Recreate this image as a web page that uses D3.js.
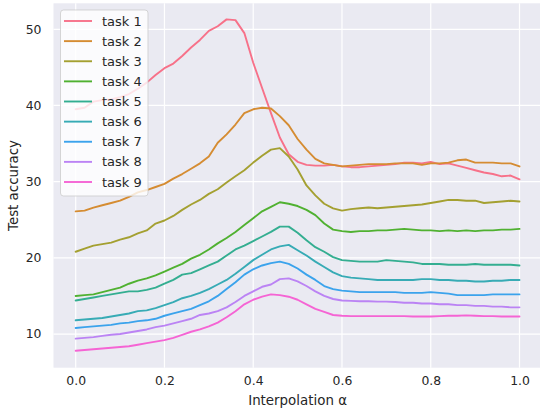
<!DOCTYPE html>
<html>
<head>
<meta charset="utf-8">
<script src="https://cdn.jsdelivr.net/npm/d3@7"></script>
<style>
html, body { margin: 0; padding: 0; background: #ffffff; }
svg { display: block; }
text { font-family: "DejaVu Sans", sans-serif; fill: #262626; }
</style>
</head>
<body>
<svg id="chart" width="540" height="410"></svg>
<script>
// ---------- data ----------
const alphas = d3.range(0, 51).map(i => +(i * 0.02).toFixed(2));
const taskNames = ["task 1","task 2","task 3","task 4","task 5","task 6","task 7","task 8","task 9"];
const taskColors = ["#f77189","#d58c32","#a4a031","#50b131","#34ae91","#37abb5","#3ba3ec","#bb83f4","#f564d4"];
const xTicks = [0.0, 0.2, 0.4, 0.6, 0.8, 1.0];
const yTicks = [10, 20, 30, 40, 50];

const task1 = [39.5,39.7,40.5,40.7,40.8,41.1,41.5,42.2,43.0,44.0,44.9,45.5,46.5,47.6,48.6,49.8,50.4,51.3,51.2,49.5,45.6,42.3,39.0,35.8,33.6,32.6,32.2,32.1,32.1,32.2,32.0,31.9,31.9,32.0,32.1,32.2,32.3,32.5,32.5,32.4,32.6,32.3,32.4,32.1,31.8,31.5,31.2,31.0,30.7,30.8,30.3];
const task2 = [26.1,26.2,26.6,26.9,27.2,27.5,28.0,28.6,28.9,29.3,29.7,30.4,31.0,31.7,32.4,33.3,35.1,36.2,37.5,39.0,39.5,39.7,39.6,38.6,37.4,35.6,34.2,33.0,32.4,32.2,32.0,32.1,32.2,32.3,32.3,32.3,32.4,32.4,32.4,32.2,32.4,32.4,32.5,32.8,32.9,32.5,32.5,32.5,32.4,32.4,32.0];
const task3 = [20.8,21.2,21.6,21.8,22.0,22.4,22.7,23.2,23.6,24.5,24.9,25.5,26.3,27.0,27.6,28.4,29.0,29.9,30.7,31.5,32.5,33.4,34.2,34.4,33.3,31.6,29.5,28.2,27.1,26.5,26.2,26.4,26.5,26.6,26.5,26.6,26.7,26.8,26.9,27.0,27.2,27.4,27.6,27.6,27.5,27.5,27.2,27.3,27.4,27.5,27.4];
const task4 = [15.0,15.1,15.2,15.5,15.8,16.1,16.6,17.0,17.3,17.7,18.2,18.7,19.2,19.9,20.4,21.1,21.9,22.6,23.4,24.3,25.2,26.1,26.7,27.3,27.1,26.8,26.3,25.6,24.5,23.7,23.5,23.4,23.5,23.5,23.6,23.6,23.7,23.8,23.7,23.6,23.6,23.5,23.6,23.5,23.6,23.5,23.6,23.6,23.7,23.7,23.8];
const task5 = [14.4,14.6,14.8,15.0,15.2,15.4,15.6,15.6,15.8,16.1,16.6,17.1,17.8,18.0,18.5,19.0,19.5,20.3,21.1,21.6,22.2,22.8,23.4,24.1,24.1,23.3,22.3,21.4,20.8,20.1,19.7,19.6,19.5,19.5,19.5,19.7,19.6,19.5,19.4,19.2,19.2,19.2,19.1,19.1,19.1,19.2,19.1,19.1,19.1,19.1,19.0];
const task6 = [11.8,11.9,12.0,12.1,12.3,12.5,12.7,13.0,13.1,13.4,13.8,14.2,14.7,15.0,15.4,15.9,16.5,17.1,17.9,18.8,19.7,20.4,21.1,21.5,21.7,21.0,20.3,19.5,18.8,18.1,17.6,17.4,17.3,17.2,17.1,17.1,17.1,17.1,17.1,17.2,17.2,17.1,17.1,17.0,17.0,16.9,16.9,17.0,17.0,17.1,17.1];
const task7 = [10.8,10.9,11.0,11.1,11.2,11.4,11.5,11.7,11.8,12.0,12.4,12.7,13.0,13.3,13.8,14.3,15.0,15.9,16.8,17.8,18.5,19.0,19.3,19.5,19.2,18.6,17.8,17.1,16.3,15.9,15.7,15.6,15.5,15.5,15.5,15.5,15.5,15.4,15.4,15.4,15.5,15.4,15.3,15.1,15.1,15.1,15.1,15.2,15.2,15.2,15.2];
const task8 = [9.4,9.5,9.6,9.75,9.9,10.0,10.2,10.4,10.6,10.9,11.1,11.4,11.7,12.0,12.5,12.7,13.0,13.5,14.2,15.0,15.6,16.2,16.5,17.2,17.3,16.9,16.3,15.6,15.0,14.6,14.4,14.35,14.3,14.3,14.25,14.25,14.2,14.1,14.1,14.0,14.0,13.9,13.9,13.8,13.8,13.7,13.7,13.6,13.6,13.5,13.5];
const task9 = [7.8,7.9,8.0,8.1,8.2,8.3,8.4,8.6,8.8,9.0,9.2,9.5,9.9,10.3,10.6,11.0,11.5,12.2,13.0,13.9,14.5,14.9,15.2,15.1,14.9,14.5,13.9,13.3,12.9,12.5,12.4,12.35,12.35,12.35,12.35,12.35,12.35,12.35,12.3,12.3,12.3,12.35,12.4,12.4,12.45,12.4,12.35,12.35,12.3,12.3,12.3];

const series = [task1, task2, task3, task4, task5, task6, task7, task8, task9];

// ---------- layout ----------
const svg = d3.select("#chart");
const plotLeft = 53.5, plotRight = 541.7, plotTop = 3.3, plotBottom = 367.7;

const x = d3.scaleLinear().domain([-0.05, 1.05]).range([plotLeft, plotRight]);
const y = d3.scaleLinear().domain([5.58, 53.41]).range([plotBottom, plotTop]);

// background
svg.append("rect")
  .attr("x", plotLeft).attr("y", plotTop)
  .attr("width", plotRight - plotLeft).attr("height", plotBottom - plotTop)
  .attr("fill", "#eaeaf2");

// grid
const grid = svg.append("g");
grid.selectAll("line.gx").data(xTicks).join("line")
  .attr("x1", d => x(d)).attr("x2", d => x(d))
  .attr("y1", plotTop).attr("y2", plotBottom)
  .attr("stroke", "#ffffff").attr("stroke-width", 1.2);
grid.selectAll("line.gy").data(yTicks).join("line")
  .attr("y1", d => y(d)).attr("y2", d => y(d))
  .attr("x1", plotLeft).attr("x2", plotRight)
  .attr("stroke", "#ffffff").attr("stroke-width", 1.2);

// axes (ticks via d3 axis, no domain line)
const xAxis = svg.append("g")
  .attr("transform", `translate(0,${plotBottom})`)
  .call(d3.axisBottom(x).tickValues(xTicks).tickFormat(d3.format(".1f")).tickSize(0).tickPadding(9));
const yAxis = svg.append("g")
  .attr("transform", `translate(${plotLeft},0)`)
  .call(d3.axisLeft(y).tickValues(yTicks).tickFormat(d3.format("d")).tickSize(0).tickPadding(12));
[xAxis, yAxis].forEach(a => {
  a.select(".domain").remove();
  a.selectAll("text").attr("font-size", "12.4px").attr("fill", "#262626")
    .attr("font-family", "DejaVu Sans, sans-serif");
});

// axis labels
svg.append("text")
  .attr("x", (x(0) + x(1)) / 2).attr("y", 405)
  .attr("text-anchor", "middle").attr("font-size", "13.4px")
  .text("Interpolation α");
svg.append("text")
  .attr("transform", `translate(18,${(plotTop + plotBottom) / 2}) rotate(-90)`)
  .attr("text-anchor", "middle").attr("font-size", "13.4px")
  .text("Test accuracy");

// lines
const line = d3.line().x((d, i) => x(alphas[i])).y(d => y(d));
const lines = svg.append("g");
series.forEach((s, k) => {
  lines.append("path")
    .datum(s)
    .attr("d", line)
    .attr("fill", "none")
    .attr("stroke", taskColors[k])
    .attr("stroke-width", 1.9)
    .attr("stroke-linejoin", "round")
    .attr("stroke-linecap", "round");
});

// legend
const legend = svg.append("g");
legend.append("rect")
  .attr("x", 60.5).attr("y", 10).attr("width", 87.5).attr("height", 186)
  .attr("rx", 3).attr("ry", 3)
  .attr("fill", "#ffffff").attr("fill-opacity", 0.8)
  .attr("stroke", "#cccccc").attr("stroke-opacity", 0.8).attr("stroke-width", 1);
const rowY = d3.scaleLinear().domain([0, 8]).range([21, 182]);
taskNames.forEach((name, k) => {
  legend.append("line")
    .attr("x1", 64).attr("x2", 92)
    .attr("y1", rowY(k)).attr("y2", rowY(k))
    .attr("stroke", taskColors[k]).attr("stroke-width", 1.9);
  legend.append("text")
    .attr("x", 102).attr("y", rowY(k))
    .attr("dy", "0.35em")
    .attr("font-size", "13px")
    .text(name);
});
</script>
</body>
</html>
